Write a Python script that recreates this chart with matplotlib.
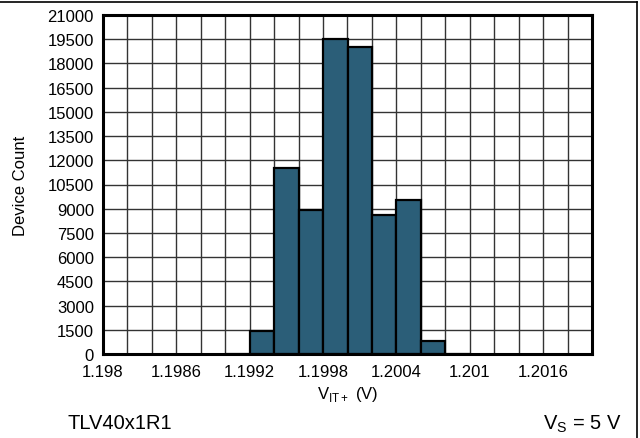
#!/usr/bin/env python3

''' Histogram of VIT+ threshold, TLV40x1R1 '''
import numpy as np
import matplotlib
matplotlib.use('Agg')
from matplotlib import pyplot as plt
from matplotlib.lines import Line2D

plt.rcParams['font.family'] = ['Liberation Sans', 'DejaVu Sans']

# Bin left edges (V) and counts
bin_left = [1.1990, 1.1992, 1.1994, 1.1996, 1.1998, 1.2000,
            1.2002, 1.2004, 1.2006, 1.2008]
counts = [15, 1400, 11500, 8950, 19500, 19000, 8630, 9520, 830, 15]
bin_width = 0.0002

xticks = [1.198, 1.1986, 1.1992, 1.1998, 1.2004, 1.201, 1.2016]
xtick_labels = ['1.198', '1.1986', '1.1992', '1.1998', '1.2004', '1.201', '1.2016']
yticks = np.arange(0, 21001, 1500)

fig = plt.figure(figsize=(6.4, 4.39), dpi=100)
ax = fig.add_axes([103/640, 1 - 355/439, 489/640, 339/439])

# grid every 0.0002 V and every 1500 counts
for gx in np.arange(1.198, 1.20201, 0.0002):
    ax.axvline(gx, color='#333333', lw=1.0, zorder=1)
for gy in yticks:
    ax.axhline(gy, color='#333333', lw=1.0, zorder=1)

ax.bar(bin_left, counts, width=bin_width, align='edge',
       color='#2b5e78', edgecolor='black', linewidth=1.6, zorder=2)

ax.set_xlim(1.198, 1.202)
ax.set_ylim(0, 21000)
ax.set_xticks(xticks)
ax.set_xticklabels(xtick_labels)
ax.set_yticks(yticks)
ax.set_yticklabels([str(v) for v in yticks])
ax.tick_params(length=0, labelsize=12)
ax.tick_params(axis='x', pad=7)
ax.tick_params(axis='y', pad=6.5)
for s in ax.spines.values():
    s.set_linewidth(2.2)
    s.set_zorder(3)

ax.set_xlabel(r'V$_{\mathregular{IT+}}$ (V)', fontsize=12)
ax.set_ylabel('Device Count', fontsize=12)
ax.xaxis.set_label_coords(0.5, (355 - 395) / 339, transform=ax.transAxes)
ax.xaxis.label.set_va('center')
ax.yaxis.set_label_coords((21 - 103) / 489, 0.5, transform=ax.transAxes)
ax.yaxis.label.set_va('center')

fig.text(68/640, 1 - 424/439, 'TLV40x1R1', fontsize=14.5, va='center', ha='left')
fig.text(622/640, 1 - 424/439, r'V$_{\mathregular{S}}$ = 5 V', fontsize=14.5,
         va='center', ha='right')

# frame lines at top and right of the picture
fig.add_artist(Line2D([0, 636.5/640], [1 - 2.5/439, 1 - 2.5/439], color='black', lw=1.2))
fig.add_artist(Line2D([636.5/640, 636.5/640], [0, 1 - 2.5/439], color='black', lw=1.2))

fig.savefig('out.png', dpi=100)
